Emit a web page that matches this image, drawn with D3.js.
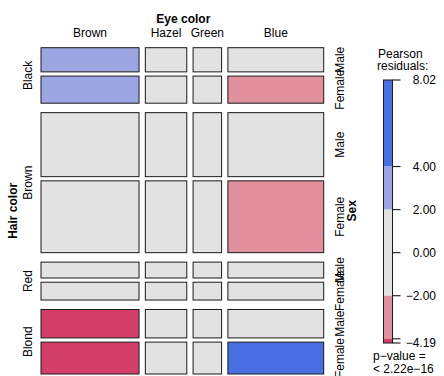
<!DOCTYPE html>
<html>
<head>
<meta charset="utf-8">
<script src="https://cdn.jsdelivr.net/npm/d3@7/dist/d3.min.js"></script>
<style>
  html, body { margin: 0; padding: 0; background: #fff; }
  svg { display: block; font-family: "Liberation Sans", Arial, Helvetica, sans-serif; }
</style>
</head>
<body>
<svg id="chart" width="444" height="376"></svg>
<script>
// Hair x Eye x Sex counts (eye columns ordered Brown, Hazel, Green, Blue)
const hairColors = ["Black", "Brown", "Red", "Blond"];
const eyeColors = ["Brown", "Hazel", "Green", "Blue"];
const sexes = ["Male", "Female"];
const maleCounts = [
  [32, 10, 3, 11],
  [53, 25, 15, 50],
  [10, 7, 7, 10],
  [3, 5, 8, 30]
];
const femaleCounts = [
  [36, 5, 2, 9],
  [66, 29, 14, 34],
  [16, 7, 7, 7],
  [4, 5, 8, 64]
];
const legendBreaks = [4, 2, 0, -2, -4];
const pValueText = ["p\u2212value =", "< 2.22e\u221216"];

const counts = [maleCounts, femaleCounts]; // [sex][hair][eye]
const N = d3.sum(counts.flat(2));
const hairTot = hairColors.map((_, h) => d3.sum(counts, s => d3.sum(s[h])));
const eyeTot = eyeColors.map((_, e) => d3.sum(counts, s => d3.sum(s, r => r[e])));
const sexTot = sexes.map((_, s) => d3.sum(counts[s].flat()));

// Pearson residuals under mutual independence
const cells = [];
hairColors.forEach((hair, h) => {
  sexes.forEach((sex, s) => {
    eyeColors.forEach((eye, e) => {
      const exp = hairTot[h] * eyeTot[e] * sexTot[s] / (N * N);
      const obs = counts[s][h][e];
      cells.push({ h, s, e, hair, sex, eye, obs, exp, res: (obs - exp) / Math.sqrt(exp) });
    });
  });
});
const resMax = d3.max(cells, d => d.res);
const resMin = d3.min(cells, d => d.res);

const colDarkBlue = "#4A6FE3", colLightBlue = "#9CA6E2", colGrey = "#E2E2E2",
      colLightRed = "#E2909E", colDarkRed = "#D33F6A";
function shade(r) {
  if (r > 4) return colDarkBlue;
  if (r > 2) return colLightBlue;
  if (r < -4) return colDarkRed;
  if (r < -2) return colLightRed;
  return colGrey;
}

const svg = d3.select("#chart");

// Tile area and spacing between tiles
const X0 = 41, X1 = 323.7, Y0 = 47.7, Y1 = 374;
const gapEye = 6.3, gapHair = 9.45, gapSex = 4.2;

const availW = (X1 - X0) - gapEye * (eyeColors.length - 1);
const availH = (Y1 - Y0) - gapHair * (hairColors.length - 1) - gapSex * hairColors.length * (sexes.length - 1);

const xScale = d3.scaleLinear().domain([0, N]).range([0, availW]);
const yScale = d3.scaleLinear().domain([0, N]).range([0, availH]);

const eyeCum = d3.cumsum([0, ...eyeTot]);
const eyeX = eyeColors.map((_, e) => ({ x: X0 + xScale(eyeCum[e]) + e * gapEye, w: xScale(eyeTot[e]) }));

const hairCum = d3.cumsum([0, ...hairTot]);
const hairY = hairColors.map((_, h) => {
  const y = Y0 + yScale(hairCum[h]) + h * (gapHair + gapSex);
  const hh = yScale(hairTot[h]);
  const sexCum = d3.cumsum([0, ...sexTot]);
  const sub = sexes.map((_, s) => ({
    y: y + hh * sexCum[s] / N + s * gapSex,
    h: hh * sexTot[s] / N
  }));
  return { y, h: hh + gapSex, sub };
});

// Tiles
svg.append("g").selectAll("rect").data(cells).join("rect")
  .attr("x", d => eyeX[d.e].x)
  .attr("y", d => hairY[d.h].sub[d.s].y)
  .attr("width", d => eyeX[d.e].w)
  .attr("height", d => hairY[d.h].sub[d.s].h)
  .attr("fill", d => shade(d.res))
  .attr("stroke", "#1a1a1a")
  .attr("stroke-width", 1);

// Eye labels (top)
svg.append("text").attr("x", (X0 + X1) / 2 + 1).attr("y", 22.5)
  .attr("text-anchor", "middle").attr("font-size", 12).attr("font-weight", "bold")
  .text("Eye color");
svg.append("g").selectAll("text").data(eyeColors).join("text")
  .attr("x", (d, i) => eyeX[i].x + eyeX[i].w / 2)
  .attr("y", 37)
  .attr("text-anchor", "middle").attr("font-size", 12)
  .text(d => d);

// Hair labels (left)
svg.append("text")
  .attr("transform", `translate(13,${(Y0 + Y1) / 2}) rotate(-90)`)
  .attr("text-anchor", "middle").attr("dominant-baseline", "central")
  .attr("font-size", 12).attr("font-weight", "bold")
  .text("Hair color");
svg.append("g").selectAll("text").data(hairColors).join("text")
  .attr("transform", (d, i) => {
    const g = hairY[i];
    const cy = (g.sub[0].y + g.sub[1].y + g.sub[1].h) / 2;
    return `translate(28,${cy}) rotate(-90)`;
  })
  .attr("text-anchor", "middle").attr("dominant-baseline", "central")
  .attr("font-size", 12)
  .text(d => d);

// Sex labels (right)
const sexLabels = [];
hairColors.forEach((_, h) => sexes.forEach((s, k) => sexLabels.push({ s, y: hairY[h].sub[k].y + hairY[h].sub[k].h / 2 })));
svg.append("g").selectAll("text").data(sexLabels).join("text")
  .attr("transform", d => `translate(340,${d.y}) rotate(-90)`)
  .attr("text-anchor", "middle").attr("dominant-baseline", "central")
  .attr("font-size", 12)
  .text(d => d.s);
svg.append("text")
  .attr("transform", `translate(352,${(Y0 + Y1) / 2}) rotate(-90)`)
  .attr("text-anchor", "middle").attr("dominant-baseline", "central")
  .attr("font-size", 12).attr("font-weight", "bold")
  .text("Sex");

// Legend
const lg = svg.append("g");
lg.append("text").attr("x", 378).attr("y", 58).attr("font-size", 12).text("Pearson");
lg.append("text").attr("x", 377).attr("y", 70).attr("font-size", 12).text("residuals:");

const ly = d3.scaleLinear().domain([resMin, resMax]).range([343, 80]);
const barX = 383.5, barW = 9;
const segs = [
  [resMax, 4, colDarkBlue], [4, 2, colLightBlue], [2, -2, colGrey],
  [-2, -4, colLightRed], [-4, resMin, colDarkRed]
];
lg.selectAll("rect.seg").data(segs).join("rect")
  .attr("class", "seg")
  .attr("x", barX).attr("width", barW)
  .attr("y", d => ly(d[0])).attr("height", d => ly(d[1]) - ly(d[0]))
  .attr("fill", d => d[2]);
lg.append("rect").attr("x", barX).attr("y", ly(resMax)).attr("width", barW)
  .attr("height", ly(resMin) - ly(resMax))
  .attr("fill", "none").attr("stroke", "#1a1a1a").attr("stroke-width", 1);

const tickVals = [resMax, ...legendBreaks, resMin];
const fmt = d3.format(".2f");
lg.selectAll("line.tick").data(tickVals).join("line")
  .attr("class", "tick")
  .attr("x1", barX + barW).attr("x2", barX + barW + 8)
  .attr("y1", d => ly(d)).attr("y2", d => ly(d))
  .attr("stroke", "#000").attr("stroke-width", 1);
// skip labels that would collide with the extreme labels
const labelVals = tickVals.filter(v => v === resMax || v === resMin ||
  (Math.abs(ly(v) - ly(resMax)) > 10 && Math.abs(ly(v) - ly(resMin)) > 10));
lg.selectAll("text.tl").data(labelVals).join("text")
  .attr("class", "tl")
  .attr("x", 436).attr("y", d => ly(d))
  .attr("text-anchor", "end").attr("dominant-baseline", "central")
  .attr("font-size", 12)
  .text(d => fmt(d));

lg.selectAll("text.pv").data(pValueText).join("text")
  .attr("class", "pv")
  .attr("x", 373).attr("y", (d, i) => 360 + i * 12.5)
  .attr("font-size", 12)
  .text(d => d);
</script>
</body>
</html>
